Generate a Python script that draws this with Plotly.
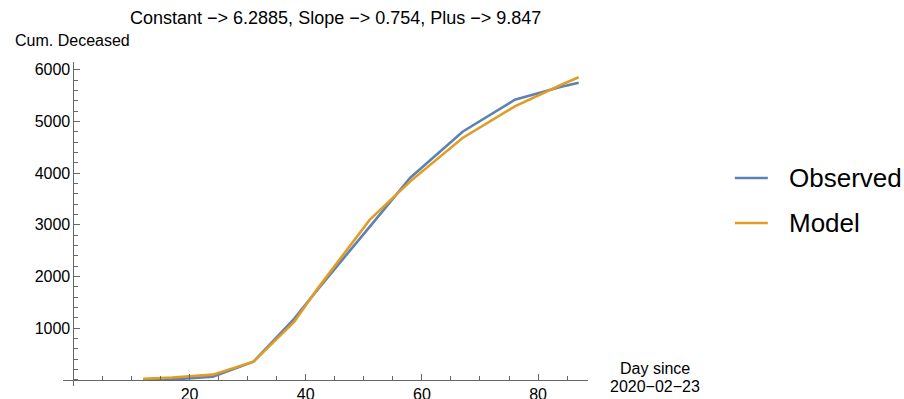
import plotly.graph_objects as go

days = [12, 17, 24, 31, 38, 42, 51, 58, 67, 76, 84, 87]
observed = [3, 8, 60, 350, 1180, 1740, 2960, 3910, 4800, 5420, 5670, 5750]
model = [20, 45, 100, 350, 1120, 1760, 3095, 3840, 4680, 5290, 5710, 5855]
x_ticks = [20, 40, 60, 80]
y_ticks = [1000, 2000, 3000, 4000, 5000, 6000]
series_names = ["Observed", "Model"]
colors = ["#5E81B5", "#E19C24"]

FONT = "Liberation Sans, Arial, sans-serif"
AX = "#666666"

xmin, xmax = -1.8, 88.6
ymin, ymax = -120, 6150

fig = go.Figure()
for name, vals, col in zip(series_names, [observed, model], colors):
    fig.add_trace(go.Scatter(x=days, y=vals, mode="lines", name=name,
                             line=dict(color=col, width=2.6), showlegend=False))

# plot domain pixels
L, R, T, B = 62.5, 904 - 588, 62, 399 - 386
W = 904 - L - R
H = 399 - T - B

def px(x):
    return (x - L) / W

def py(y):
    return (399 - B - y) / H

fig.update_layout(
    width=904, height=399,
    margin=dict(l=L, r=R, t=T, b=B, autoexpand=False),
    paper_bgcolor="white", plot_bgcolor="white",
    font=dict(family=FONT, size=16, color="black"),
    xaxis=dict(range=[xmin, xmax], domain=[0, 1], anchor="free", automargin=False,
               position=(0 - ymin) / (ymax - ymin),
               showgrid=False, zeroline=False, showline=True, linecolor=AX, linewidth=1,
               tickvals=x_ticks, ticks="inside", ticklen=6, tickcolor=AX, tickwidth=1,
               tickfont=dict(size=16, family=FONT),
               minor=dict(dtick=5, tick0=0, ticks="inside", ticklen=4, tickcolor=AX, tickwidth=1),
               ),
    yaxis=dict(range=[ymin, ymax], domain=[0, 1], anchor="free", automargin=False,
               position=(0 - xmin) / (xmax - xmin),
               showgrid=False, zeroline=False, showline=True, linecolor=AX, linewidth=1,
               tickvals=y_ticks, ticks="inside", ticklen=6, tickcolor=AX, tickwidth=1,
               tickfont=dict(size=16, family=FONT),
               minor=dict(dtick=200, tick0=0, ticks="inside", ticklen=4, tickcolor=AX, tickwidth=1),
               ),
)

ann = []
ann.append(dict(text="Constant \u2212> 6.2885, Slope \u2212> 0.754, Plus \u2212> 9.847",
                x=px(335), y=py(18), xref="paper", yref="paper", showarrow=False,
                xanchor="center", yanchor="middle", font=dict(size=18, family=FONT)))
ann.append(dict(text="Cum. Deceased", x=px(72), y=py(41), xref="paper", yref="paper",
                showarrow=False, xanchor="center", yanchor="middle", font=dict(size=16, family=FONT)))
ann.append(dict(text="Day since", x=px(655), y=py(368), xref="paper", yref="paper",
                showarrow=False, xanchor="center", yanchor="middle", font=dict(size=16, family=FONT)))
ann.append(dict(text="2020\u221202\u221223", x=px(655), y=py(386), xref="paper", yref="paper",
                showarrow=False, xanchor="center", yanchor="middle", font=dict(size=16, family=FONT)))

shapes = []
for i, (name, col) in enumerate(zip(series_names, colors)):
    yy = 178 + 45 * i
    shapes.append(dict(type="line", xref="paper", yref="paper", x0=px(735), x1=px(768),
                       y0=py(yy), y1=py(yy), line=dict(color=col, width=2.6)))
    ann.append(dict(text=name, x=px(787), y=py(yy), xref="paper", yref="paper",
                    showarrow=False, xanchor="left", yanchor="middle",
                    font=dict(size=26, family=FONT)))

fig.update_layout(annotations=ann, shapes=shapes)
fig.write_html("out.html")
